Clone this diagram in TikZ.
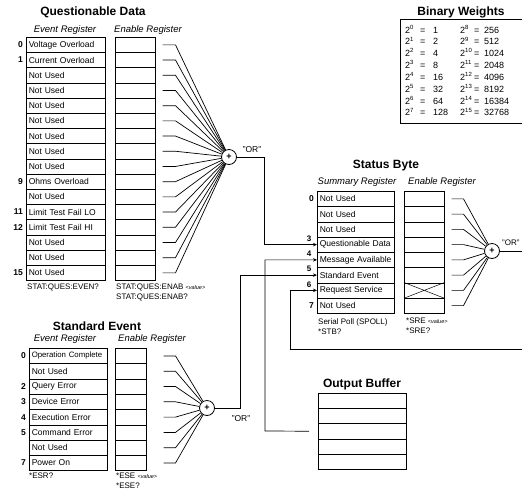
\documentclass[tikz,border=0pt]{standalone}
\usepackage{fontspec}
\setmainfont{Liberation Sans}
\usetikzlibrary{arrows.meta}
\newcommand\lblfont{\fontsize{8.5}{9}\selectfont}
\newcommand\valfont{\fontsize{5.5}{6}\selectfont\itshape}
\begin{document}
\begin{tikzpicture}[x=1pt,y=-1pt,
  cell/.style={draw, line width=0.5pt, minimum height=15.2pt, inner ysep=0pt, inner xsep=2.5pt, anchor=north west, font=\lblfont, align=left},
  frame/.style={line width=1pt},
  title/.style={font=\fontsize{12}{14}\selectfont\bfseries},
  sub/.style={font=\fontsize{9.5}{10}\selectfont\itshape},
  bit/.style={font=\fontsize{8.5}{9}\selectfont\bfseries, anchor=east, inner sep=0pt},
  arrbit/.style={font=\fontsize{8}{9}\selectfont\bfseries, inner sep=0pt},
  cmd/.style={font=\fontsize{8}{10}\selectfont, anchor=north west, align=left, inner sep=0pt},
  orgate/.style={draw, circle, line width=0.8pt, minimum size=15pt, inner sep=0pt, fill=white, font=\bfseries\fontsize{9}{9}\selectfont},
  orlbl/.style={font=\fontsize{8.5}{9}\selectfont, inner sep=0pt},
  wire/.style={line width=0.7pt},
  arr/.style={wire, -{Stealth[length=4pt,width=3.5pt]}},
  bw/.style={font=\fontsize{9}{10}\selectfont, anchor=base west, inner sep=0pt}
]
\path[fill=white, use as bounding box] (0,0) rectangle (522,496);

% ---------------- Questionable Data ----------------
\node[title] (qdt) at (93,12) {Questionable Data};
\node[sub] (qdev) at (65,30) {Event Register};
\node[sub] (qden) at (148,30) {Enable Register};
\node[orgate] (qor) at (229,157) {+};
\node[orlbl] (qorl) at (252,150) {"OR"};
\foreach \txt [count=\i from 0] in {Voltage Overload, Current Overload, Not Used, Not Used, Not Used, Not Used, Not Used, Not Used, Not Used, Ohms Overload, Not Used, Limit Test Fail LO, Limit Test Fail HI, Not Used, Not Used, Not Used} {
  \node[cell, text width=74pt] (qe\i) at (26,{37+15.2*\i}) {\txt};
  \node[cell, minimum width=40pt] (qn\i) at (115,{37+15.2*\i}) {};
  \draw[wire] ([xshift=7pt]qn\i.east) -- ++(13,0) -- (qor);
}
\foreach \r in {0,1,9,11,12,15} \node[bit] at ([xshift=-3pt]qe\r.west) {\r};
\draw[frame] (qe0.north west) rectangle (qe15.south east);
\draw[frame] (qn0.north west) rectangle (qn15.south east);
\node[cmd] (qc1) at (27,284) {STAT:QUES:EVEN?};
\node[cmd] (qc2) at (116,284) {STAT:QUES:ENAB {\valfont<value>}\\STAT:QUES:ENAB?};

% ---------------- Standard Event ----------------
\node[title] (set) at (97,326) {Standard Event};
\node[sub] (seev) at (65,339) {Event Register};
\node[sub] (seen) at (152,339) {Enable Register};
\node[orgate] (sor) at (207,408) {+};
\node[orlbl] (sorl) at (241,419) {"OR"};
\foreach \txt [count=\i from 0] in {{\fontsize{7.8}{9}\selectfont Operation Complete}, Not Used, Query Error, Device Error, Execution Error, Command Error, Not Used, Power On} {
  \node[cell, minimum height=15.3pt, text width=73pt] (se\i) at (29,{348+15.3*\i}) {\txt};
  \node[cell, minimum height=15.3pt, minimum width=31pt] (sn\i) at (115,{348+15.3*\i}) {};
  \draw[wire] ([xshift=17pt]sn\i.east) -- ++(12,0) -- (sor);
}
\foreach \r in {0,2,3,4,5,7} \node[bit] at ([xshift=-3pt]se\r.west) {\r};
\draw[frame] (se0.north west) rectangle (se7.south east);
\draw[frame] (sn0.north west) rectangle (sn7.south east);
\node[cmd] (sc1) at (29,473) {*ESR?};
\node[cmd] (sc2) at (116,473) {*ESE {\valfont<value>}\\*ESE?};

% ---------------- Status Byte ----------------
\node[title] (sbt) at (386,166) {Status Byte};
\node[sub] (sbsu) at (357,182) {Summary Register};
\node[sub] (sben) at (442,182) {Enable Register};
\node[orgate] (bor) at (492,251) {+};
\node[orlbl, anchor=west, font=\fontsize{8}{9}\selectfont] (borl) at (502,243) {"OR"};
\foreach \txt [count=\i from 0] in {Not Used, Not Used, Not Used, Questionable Data, Message Available, Standard Event, Request Service, Not Used} {
  \node[cell, minimum height=15.25pt, text width=72pt] (sb\i) at (317,{191+15.25*\i}) {\txt};
  \node[cell, minimum height=15.25pt, minimum width=40pt] (bn\i) at (404,{191+15.25*\i}) {};
  \draw[wire] ([xshift=7pt]bn\i.east) -- ++(12,0) -- (bor);
}
\foreach \r in {0,7} \node[bit] at ([xshift=-3pt]sb\r.west) {\r};
\foreach \r in {3,4,5,6} \node[arrbit] at ([xshift=-8pt,yshift=6pt]sb\r.west) {\r};
\draw[line width=0.5pt] (bn6.north west) -- (bn6.south east) (bn6.south west) -- (bn6.north east);
\draw[frame] (sb0.north west) rectangle (sb7.south east);
\draw[frame] (bn0.north west) rectangle (bn7.south east);
\node[cmd] (bc1) at (318,318) {Serial Poll (SPOLL)\\*STB?};
\node[cmd] (bc2) at (406,318) {*SRE {\valfont<value>}\\*SRE?};
\coordinate (bout) at (530,251);
\draw[wire] (bor) -- (bout);

% ---------------- Output Buffer ----------------
\node[title] (obt) at (362,384) {Output Buffer};
\foreach \i in {0,...,4} \node[cell, minimum width=88pt] (ob\i) at (318,{393+15.2*\i}) {};
\draw[frame] (ob0.north west) rectangle (ob4.south east);

% ---------------- Connectors ----------------
\coordinate (qk) at (264,157);
\draw[arr] (qor) -- (qk) |- (sb3.west);
\coordinate (mk) at (265,431);
\draw[arr, shorten <=9pt] (ob2.west) -- (mk) |- (sb4.west);
\coordinate (sk) at (240,408);
\draw[arr] (sor) -- (sk) |- (sb5.west);
\coordinate (fb) at (530,349);
\coordinate (fk) at (290,349);
\draw[arr] (fb) -- (fk) |- (sb6.west);

% ---------------- Binary Weights ----------------
\node[title] (bwt) at (461,12) {Binary Weights};
\node[draw, frame, anchor=north west, minimum width=135pt, minimum height=104pt] (bwbox) at (400,19) {};
\foreach \e/\v [count=\i from 0] in {0/1,1/2,2/4,3/8,4/16,5/32,6/64,7/128} {
  \node[bw] at (405,{33+11.85*\i}) {2\textsuperscript{\e}};
  \node[bw] at (420,{33+11.85*\i}) {=};
  \node[bw] at (433,{33+11.85*\i}) {\v};
}
\foreach \e/\v [count=\i from 0] in {8/256,9/512,10/1024,11/2048,12/4096,13/8192,14/16384,15/32768} {
  \node[bw] at (460,{33+11.85*\i}) {2\textsuperscript{\e}};
  \node[bw] at (474,{33+11.85*\i}) {=};
  \node[bw] at (484,{33+11.85*\i}) {\v};
}
\end{tikzpicture}
\end{document}
